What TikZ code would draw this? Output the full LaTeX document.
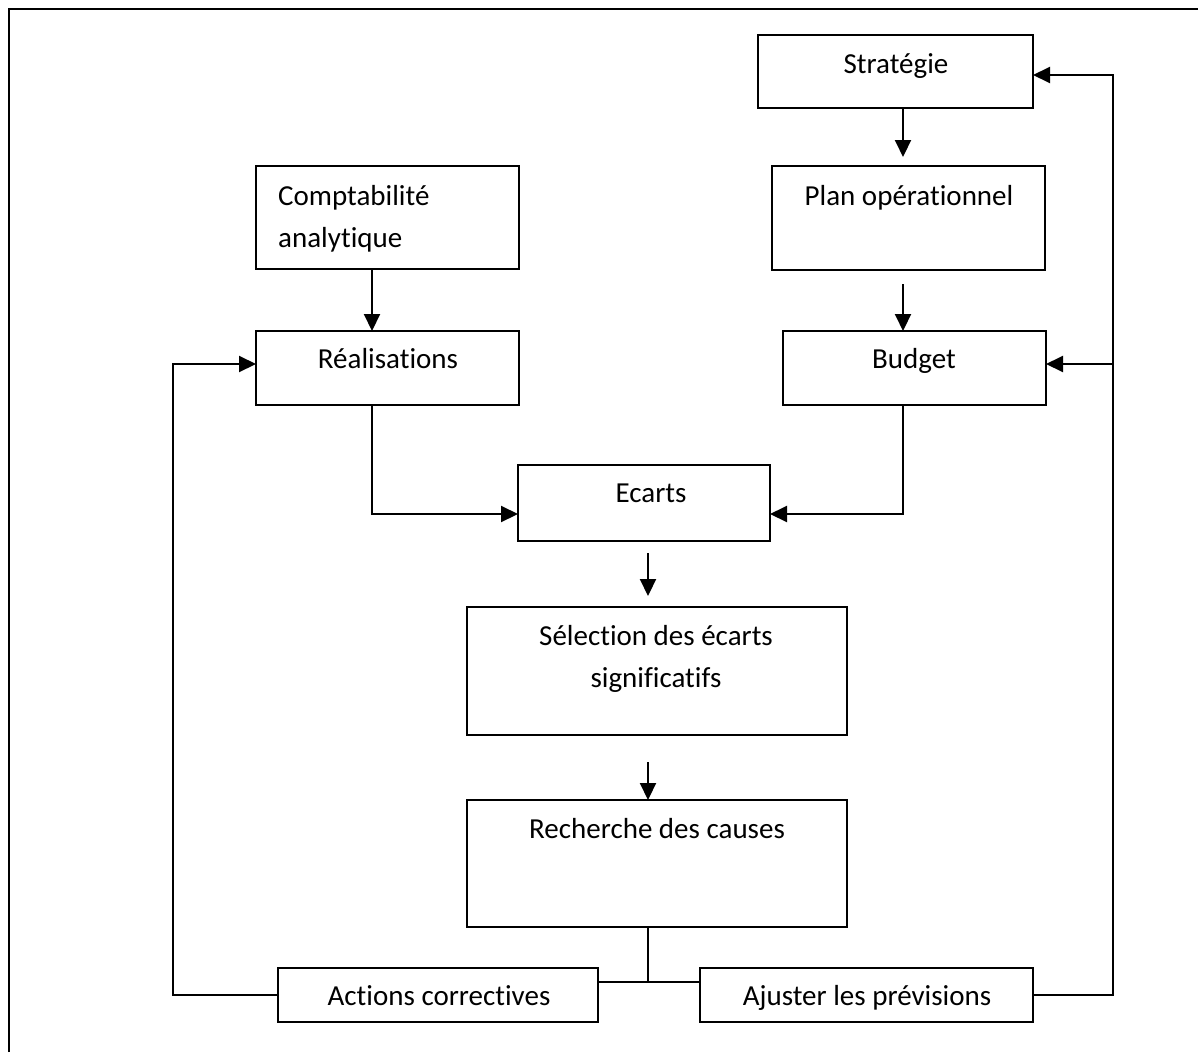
\documentclass[tikz,border=0pt]{standalone}
\usepackage{fontspec}
\setmainfont[Ligatures={NoCommon}]{Carlito}
\usetikzlibrary{arrows.meta}

% place a rectangular box by its corners (x1,y1)-(x2,y2), y grows downward
\newcommand{\boxnode}[5]{%
  \node[box, minimum width={(#4-#2)*1pt}, minimum height={(#5-#3)*1pt}, anchor=north west] (#1) at (#2,#3) {};}

\begin{document}
\begin{tikzpicture}[x=1pt, y=-1pt,
  box/.style={draw, line width=2.3pt, inner sep=0pt, outer sep=0pt},
  lbl/.style={anchor=base, inner sep=0pt, font=\fontsize{29}{42}\selectfont},
  link/.style={line width=2.1pt},
  arr/.style={link, -{Triangle[length=17pt, width=16pt]}}]

\useasboundingbox (0,0) rectangle (1198,1052);

% outer frame (top and left sides)
\draw[line width=2.8pt] (9,1052) -- (9,9) -- (1198,9);

% boxes
\boxnode{strat}{758}{35}{1033}{108}
\boxnode{plan}{772}{166}{1045}{270}
\boxnode{compta}{256}{166}{519}{269}
\boxnode{real}{256}{331}{519}{405}
\boxnode{budget}{783}{331}{1046}{405}
\boxnode{ecarts}{518}{465}{770}{541}
\boxnode{select}{467}{607}{847}{735}
\boxnode{causes}{467}{800}{847}{927}
\boxnode{actions}{278}{968}{598}{1022}
\boxnode{ajuster}{700}{968}{1033}{1022}

% labels
\node[lbl] (tstrat) at (896,73) {Stratégie};
\node[lbl] (tplan) at (909,205) {Plan opérationnel};
\node[lbl, anchor=base west] (tcompta1) at (278,205) {Comptabilité};
\node[lbl, anchor=base west] (tcompta2) at (278,247) {analytique};
\node[lbl] (treal) at (388,368) {Réalisations};
\node[lbl] (tbudget) at (914,368) {Budget};
\node[lbl] (tecarts) at (651,502) {Ecarts};
\node[lbl] (tselect1) at (656,645) {Sélection des écarts};
\node[lbl] (tselect2) at (656,687) {significatifs};
\node[lbl] (tcauses) at (657,838) {Recherche des causes};
\node[lbl] (tactions) at (439,1005) {Actions correctives};
\node[lbl] (tajuster) at (867,1005) {Ajuster les prévisions};

% reference lines for the connectors
\coordinate (xr) at (903,0);
\coordinate (xl) at (372,0);
\coordinate (xm) at (648,0);
\coordinate (xleft) at (173,0);
\coordinate (xright) at (1113,0);
\coordinate (ymeet) at (0,514);
\coordinate (yjoin) at (0,982);
\coordinate (yreal) at (0,364);
\coordinate (ystrat) at (0,75);

% downward flow
\draw[arr, shorten >=9pt] (strat.south -| xr) -- (plan.north -| xr);
\draw[arr, shorten <=14pt] (plan.south -| xr) -- (budget.north -| xr);
\draw[arr] (compta.south -| xl) -- (real.north -| xl);
\draw[arr] (real.south -| xl) |- (ecarts.west |- ymeet);
\draw[arr] (budget.south -| xr) |- (ecarts.east |- ymeet);
\draw[arr, shorten <=12pt, shorten >=11pt] (ecarts.south -| xm) -- (select.north -| xm);
\draw[arr, shorten <=27pt] (select.south -| xm) -- (causes.north -| xm);

% split towards the two outcomes
\draw[link] (causes.south -| xm) -- (xm |- yjoin);
\draw[link] (actions.east |- yjoin) -- (ajuster.west |- yjoin);

% feedback loops
\draw[arr] (actions.west) -| (xleft |- yreal) -- (real.west |- yreal);
\draw[arr] (ajuster.east) -| (xright |- ystrat) -- (strat.east |- ystrat);
\draw[arr] (xright |- yreal) -- (budget.east |- yreal);
\end{tikzpicture}
\end{document}
